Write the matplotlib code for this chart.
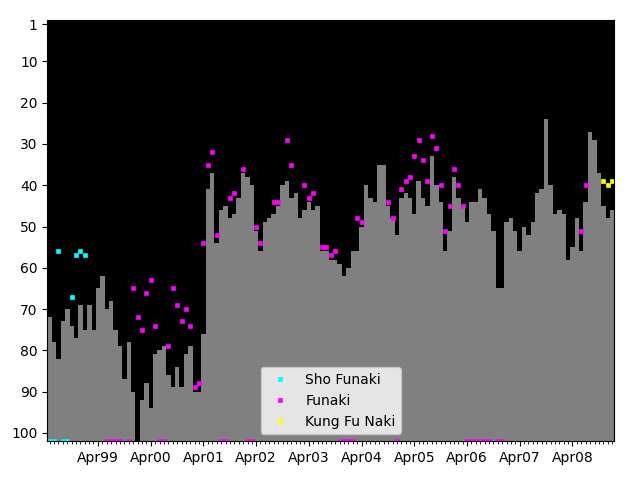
import matplotlib
matplotlib.use('Agg')
import matplotlib.pyplot as plt
import matplotlib.dates as mdates
import numpy as np
import pandas as pd

nan = np.nan
unranked = 102

# monthly ranking, May 1998 - Jan 2009
months = pd.date_range('1998-05-01', periods=129, freq='MS')

total_rank = [72, 78, 82, 73, 70, 74, 77, 69, 75, 69,
              75, 65, 62, 70, 68, 75, 79, 87, 78, 90,
              nan, 92, 88, 94, 81, 80, 79, 86, 89, 84,
              89, 81, 79, 90, 90, 76, 41, 37, 54, 46,
              45, 48, 47, 43, 37, 38, 40, 51, 56, 49,
              48, 47, 45, 40, 39, 43, 42, 48, 46, 44,
              46, 45, 56, 56, 58, 58, 59, 62, 60, 56,
              56, 50, 40, 43, 44, 35, 35, 45, 48, 52,
              43, 42, 43, 47, 39, 43, 45, 33, 40, 44,
              56, 51, 38, 43, 45, 49, 44, 44, 41, 43,
              47, 51, 65, 65, 49, 48, 51, 56, 50, 52,
              49, 42, 41, 24, 40, 47, 46, 47, 58, 55,
              48, 56, 44, 27, 29, 37, 45, 48, 46]

sho_funaki = [unranked, unranked, 56, unranked, unranked, 67, 57, 56, 57] + [nan] * 120

funaki = ([nan] * 13 +
          [unranked] * 4 + [nan, unranked] +
          [65, 72, 75, 66, 63, 74, unranked, unranked, 79, 65,
           69, 73, 70, 74, 89, 88, 54, 35, 32, 52,
           unranked, unranked, 43, 42, nan, 36, unranked, unranked, 50, 54,
           nan, nan, 44, 44, nan, 29, 35, nan, nan, 40,
           43, 42, nan, 55, 55, 57, 56, unranked, unranked, unranked,
           unranked, 48, 49, nan, nan, nan, nan, nan, 44, 48,
           unranked, 41, 39, 38, 33, 29, 34, 39, 28, 31,
           40, 51, 45, 36, 40, 45] +
          [unranked] * 6 + [nan, unranked, unranked] +
          [nan] * 17 + [51, 40] + [nan] * 6)

kung_fu_naki = [nan] * 126 + [39, 40, 39]

total_rank = np.array(total_rank, dtype=float)

fig, ax = plt.subplots(figsize=(6.4, 4.8), dpi=100)
ax.set_facecolor('black')

ax.bar(months, unranked - total_rank, bottom=total_rank, width=31,
       color='gray', linewidth=0, align='center')

ax.plot(months, sho_funaki, 's', color='cyan', ms=3, mew=0.5, label='Sho Funaki')
ax.plot(months, funaki, 's', color='magenta', ms=3, mew=0.5, label='Funaki')
ax.plot(months, kung_fu_naki, 's', color='yellow', ms=3, mew=0.5, label='Kung Fu Naki')

ax.set_ylim(unranked, 0)
ax.set_yticks([1, 10, 20, 30, 40, 50, 60, 70, 80, 90, 100])
ax.set_xlim(months[0] - pd.Timedelta(days=15.5), months[-1] + pd.Timedelta(days=15.5))

ax.xaxis.set_major_locator(mdates.MonthLocator(bymonth=4))
ax.xaxis.set_major_formatter(mdates.DateFormatter('%b%y'))
ax.xaxis.set_minor_locator(mdates.MonthLocator())

ax.legend(loc='lower center')

fig.subplots_adjust(left=0.074, right=0.96, top=0.958, bottom=0.081)
plt.savefig('out.png', dpi=100)
